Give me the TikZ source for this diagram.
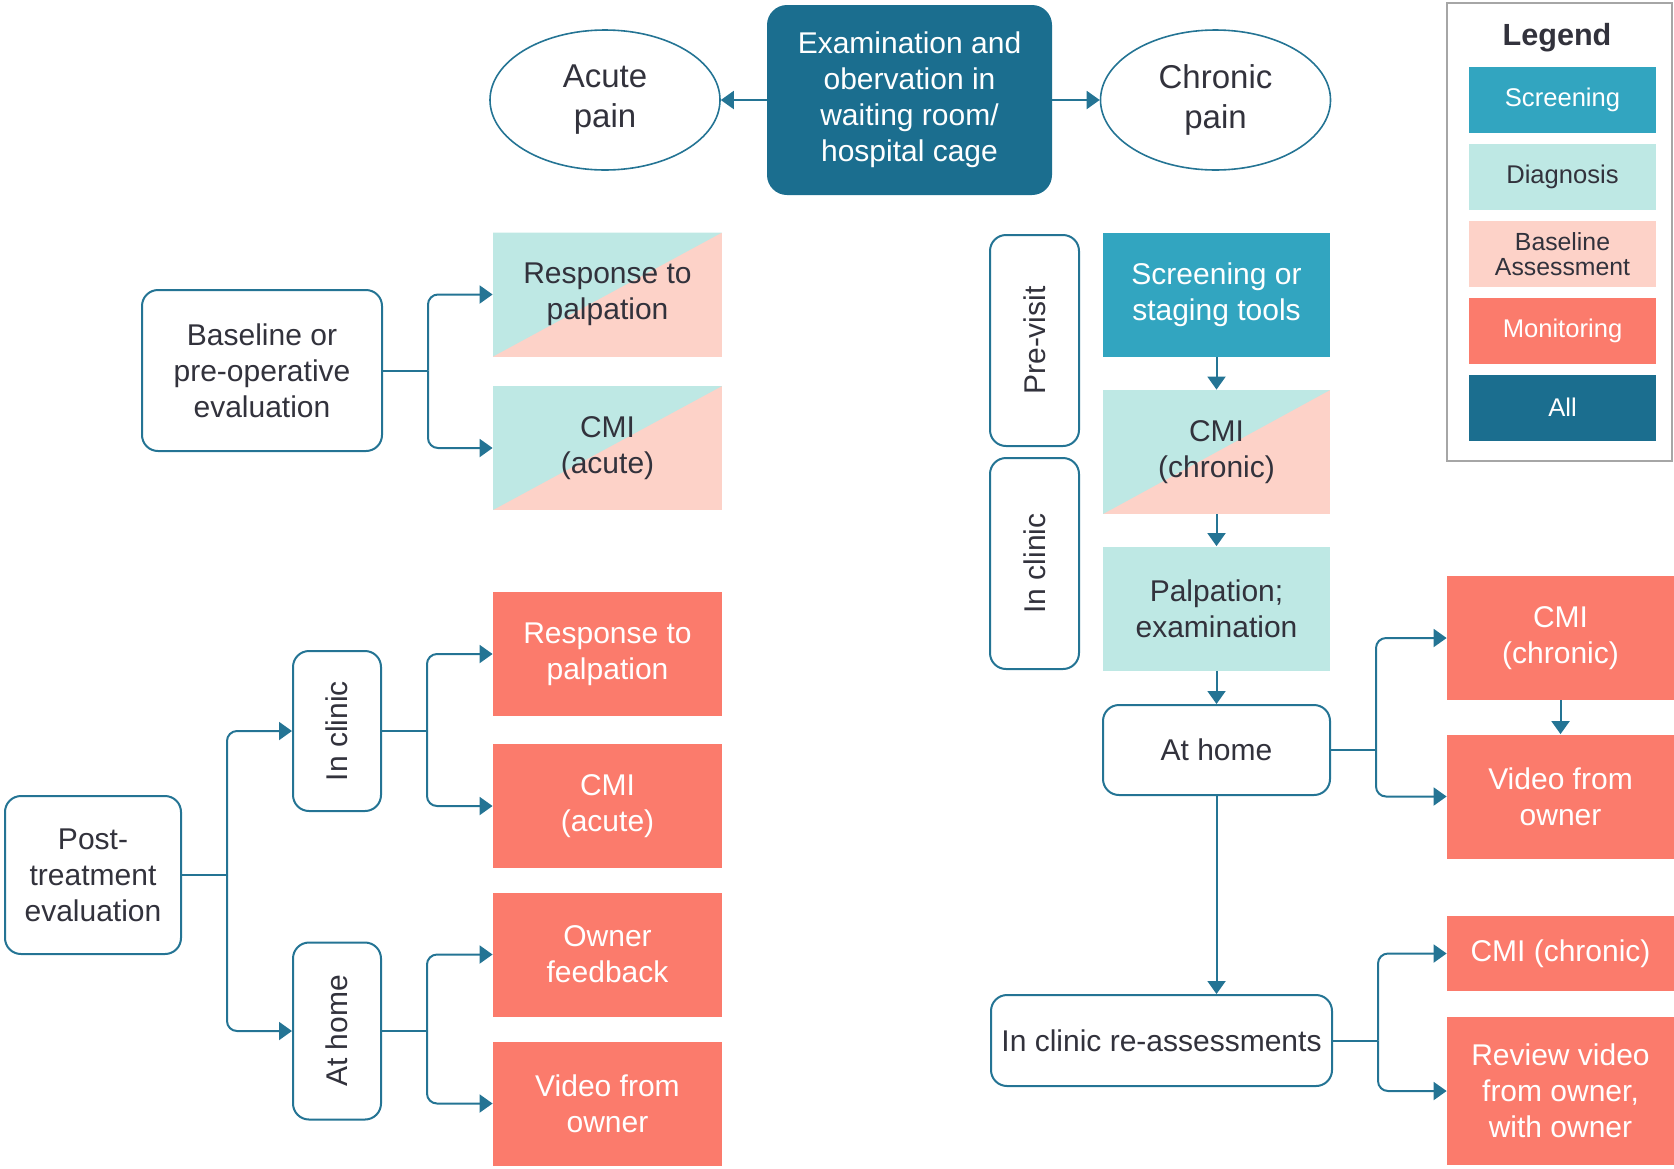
\documentclass[tikz,border=0pt]{standalone}
\usepackage{fontspec}
\setmainfont{Liberation Sans}
\usepackage{graphicx}
\usepackage{xcolor}
\definecolor{allBlue}{RGB}{27,110,143}
\definecolor{lineBlue}{RGB}{36,116,148}
\definecolor{screenBlue}{RGB}{50,165,192}
\definecolor{diagMint}{RGB}{190,232,228}
\definecolor{basePink}{RGB}{253,210,200}
\definecolor{monSalmon}{RGB}{251,123,108}
\definecolor{textGray}{RGB}{50,50,60}
\usepackage{tikz}
\usetikzlibrary{arrows.meta,shapes,calc,positioning}
\tikzstyle{edge}  =[draw=lineBlue, line width=1pt]
\tikzstyle{aedge} =[edge, rounded corners=5pt,
                    -{Triangle[length=6.5pt,width=9pt]}]
\tikzstyle{box}   =[rectangle, minimum width=114.5pt, minimum height=62pt,
                    inner sep=2pt, align=center, text=textGray,
                    font=\fontsize{15}{18}\selectfont]
\tikzstyle{rbox}  =[box, draw=lineBlue, line width=1pt,
                    rounded corners=8pt, fill=white]
\tikzstyle{oval}  =[ellipse, draw=lineBlue, line width=0.8pt,
                    minimum width=115pt, minimum height=70pt,
                    align=center, text=textGray,
                    font=\fontsize{16.5}{20}\selectfont]
\tikzstyle{scr}   =[box, fill=screenBlue, text=white]
\tikzstyle{diag}  =[box, fill=diagMint]
\tikzstyle{mon}   =[box, fill=monSalmon, text=white]
\tikzstyle{split} =[box, fill=basePink, path picture={
                    \fill[diagMint] (path picture bounding box.south west)
                      -- (path picture bounding box.north east)
                      -- (path picture bounding box.north west) -- cycle;}]
\tikzstyle{leg}   =[box, minimum width=93.5pt, minimum height=33pt,
                    font=\fontsize{12.8}{15}\selectfont]

\begin{document}
\begin{tikzpicture}[x=0.5pt,y=-0.5pt]
    \useasboundingbox (0,0) rectangle (1674,1168);

    % top row
    \draw (909.5,100) node (exam) [box, fill=allBlue, text=white, rounded corners=10pt,
        minimum width=142.5pt, minimum height=95pt] {Examination and\\obervation in\\waiting room/\\hospital cage};
    \draw (605,100) node (acute) [oval] {Acute\\pain};
    \draw (1215.5,100) node (chronic) [oval] {Chronic\\pain};
    \draw [aedge] (exam.west) -- (acute.east);
    \draw [aedge] (exam.east) -- (chronic.west);

    % legend
    \draw [draw=gray!70, line width=1pt] (1447,3) rectangle (1672,461);
    \draw (1557,38) node (legTitle) [text=textGray, font=\bfseries\fontsize{15.3}{18}\selectfont] {Legend};
    \draw (1562.5,100) node (legScr) [leg, fill=screenBlue, text=white] {Screening};
    \draw (1562.5,177) node (legDiag) [leg, fill=diagMint] {Diagnosis};
    \draw (1562.5,254) node (legBase) [leg, fill=basePink, font=\fontsize{12.4}{12.5}\selectfont] {Baseline\\Assessment};
    \draw (1562.5,330.5) node (legMon) [leg, fill=monSalmon, text=white] {Monitoring};
    \draw (1562.5,407.5) node (legAll) [leg, fill=allBlue, text=white] {All};

    % acute pain: baseline
    \draw (262,370.5) node (base) [rbox, minimum width=120pt, minimum height=80.5pt] {Baseline or\\pre-operative\\evaluation};
    \draw (607.5,294.5) node (rpA) [split] {Response to\\palpation};
    \draw (607.5,448) node (cmiA) [split] {CMI\\(acute)};

    % acute pain: post-treatment
    \draw (93,875) node (post) [rbox, minimum width=88pt, minimum height=79pt] {Post-\\treatment\\evaluation};
    \draw (337,731) node (clinL) [rbox, minimum width=44pt, minimum height=80pt] {\rotatebox{90}{In clinic}};
    \draw (337,1031) node (homeL) [rbox, minimum width=44pt, minimum height=88.5pt] {\rotatebox{90}{At home}};
    \draw (607.5,654) node (rpM) [mon] {Response to\\palpation};
    \draw (607.5,806) node (cmiM) [mon] {CMI\\(acute)};
    \draw (607.5,954.5) node (ownerM) [mon] {Owner\\feedback};
    \draw (607.5,1103.5) node (videoM) [mon] {Video from\\owner};

    % chronic pain
    \draw (1034.5,340.5) node (previsit) [rbox, minimum width=44.5pt, minimum height=105.5pt] {\rotatebox{90}{Pre-visit}};
    \draw (1034.5,563.5) node (clinR) [rbox, minimum width=44.5pt, minimum height=105.5pt] {\rotatebox{90}{In clinic}};
    \draw (1216.5,294.5) node (screen) [scr, minimum width=113.5pt] {Screening or\\staging tools};
    \draw (1216.5,452) node (cmiC) [split, minimum width=113.5pt] {CMI\\(chronic)};
    \draw (1216.5,608.5) node (palp) [diag, minimum width=113.5pt] {Palpation;\\examination};
    \draw (1216.5,750) node (homeR) [rbox, minimum width=113.5pt, minimum height=45pt] {At home};
    \draw (1161.5,1040.5) node (reass) [rbox, minimum width=170.5pt, minimum height=45.5pt, inner sep=0pt] {In clinic re-assessments};
    \draw (1560.5,638) node (cmiCM) [mon, minimum width=113.5pt] {CMI\\(chronic)};
    \draw (1560.5,796.5) node (videoR) [mon, minimum width=113.5pt] {Video from\\owner};
    \draw (1560.5,953.5) node (cmiC2) [mon, minimum width=113.5pt, minimum height=37.5pt] {CMI (chronic)};
    \draw (1560.5,1091) node (review) [mon, minimum width=113.5pt, minimum height=74pt] {Review video\\from owner,\\with owner};

    % connectors
    \foreach \i/\j in {screen/cmiC, cmiC/palp, palp/homeR, cmiCM/videoR}
        \draw [aedge] (\i) -- (\j);
    \draw [aedge] (homeR.south) -- (homeR.south |- reass.north);

    \foreach \s/\a/\b in {base/rpA/cmiA, post/clinL/homeL, clinL/rpM/cmiM,
        homeL/ownerM/videoM, homeR/cmiCM/videoR, reass/cmiC2/review} {
        \draw [edge] (\s.east) -- ++(45,0) coordinate (br\s);
        \draw [aedge] (br\s) |- (\a.west);
        \draw [aedge] (br\s) |- (\b.west);
    }

\end{tikzpicture}
\end{document}
